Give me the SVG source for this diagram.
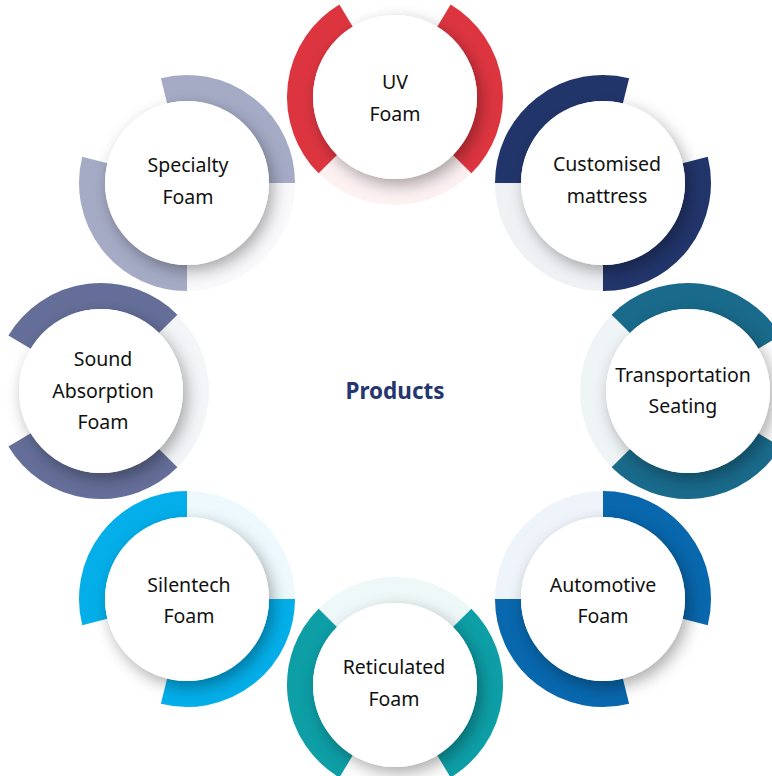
<svg xmlns="http://www.w3.org/2000/svg" width="772" height="776" viewBox="0 0 772 776">
  <defs>
    <style>
      .disc { fill: #ffffff; filter: url(#shadow); }
      .lbl { font-family: "Noto Sans", "Liberation Sans", sans-serif; font-size: 19.5px; fill: #111111; text-anchor: middle; }
      .title { font-family: "Noto Sans", "Liberation Sans", sans-serif; font-size: 22.5px; font-weight: bold; fill: #25356f; text-anchor: middle; }
    </style>
    <filter id="shadow" x="-40%" y="-40%" width="180%" height="180%">
      <feDropShadow dx="4" dy="6" stdDeviation="8" flood-color="#000000" flood-opacity="0.33"/>
    </filter>
    <g id="ring" fill="none" stroke-width="26">
      <path d="M48.93,-81.43A95,95 0 0 1 67.18,67.18M-67.18,67.18A95,95 0 0 1 -48.93,-81.43" stroke="currentColor"/>
      <path d="M67.18,67.18A95,95 0 0 1 -67.18,67.18" stroke="currentColor" stroke-opacity="0.07"/>
    </g>
  </defs>
  <rect width="772" height="776" fill="#ffffff"/>

  <g id="connectors"></g>

  <g id="node-uv">
    <use href="#ring" transform="translate(395,97) rotate(0)" style="color:#dd3540"/>
    <circle class="disc" cx="395" cy="97" r="82"/>
    <text class="lbl" x="395" y="89">UV</text>
    <text class="lbl" x="395" y="121">Foam</text>
  </g>

  <g id="node-customised">
    <use href="#ring" transform="translate(603,183) rotate(45)" style="color:#22356b"/>
    <circle class="disc" cx="603" cy="183" r="82"/>
    <text class="lbl" x="607" y="171">Customised</text>
    <text class="lbl" x="607" y="203">mattress</text>
  </g>

  <g id="node-transportation">
    <use href="#ring" transform="translate(688,391) rotate(90)" style="color:#196a8b"/>
    <circle class="disc" cx="688" cy="391" r="82"/>
    <text class="lbl" x="683" y="382">Transportation</text>
    <text class="lbl" x="683" y="413">Seating</text>
  </g>

  <g id="node-automotive">
    <use href="#ring" transform="translate(603,599) rotate(135)" style="color:#0867ad"/>
    <circle class="disc" cx="603" cy="599" r="82"/>
    <text class="lbl" x="603" y="592">Automotive</text>
    <text class="lbl" x="603" y="623">Foam</text>
  </g>

  <g id="node-reticulated">
    <use href="#ring" transform="translate(395,685) rotate(180)" style="color:#0d9ea6"/>
    <circle class="disc" cx="395" cy="685" r="82"/>
    <text class="lbl" x="394" y="674">Reticulated</text>
    <text class="lbl" x="394" y="706">Foam</text>
  </g>

  <g id="node-silentech">
    <use href="#ring" transform="translate(187,599) rotate(225)" style="color:#03aee9"/>
    <circle class="disc" cx="187" cy="599" r="82"/>
    <text class="lbl" x="189" y="592">Silentech</text>
    <text class="lbl" x="189" y="623">Foam</text>
  </g>

  <g id="node-sound">
    <use href="#ring" transform="translate(101,391) rotate(270)" style="color:#646e98"/>
    <circle class="disc" cx="101" cy="391" r="82"/>
    <text class="lbl" x="103" y="366">Sound</text>
    <text class="lbl" x="103" y="398">Absorption</text>
    <text class="lbl" x="103" y="429">Foam</text>
  </g>

  <g id="node-specialty">
    <use href="#ring" transform="translate(187,183) rotate(315)" style="color:#a5abc5"/>
    <circle class="disc" cx="187" cy="183" r="82"/>
    <text class="lbl" x="188" y="172">Specialty</text>
    <text class="lbl" x="188" y="204">Foam</text>
  </g>

  <g id="node-products">
    <text class="title" x="395" y="399">Products</text>
  </g>
</svg>
